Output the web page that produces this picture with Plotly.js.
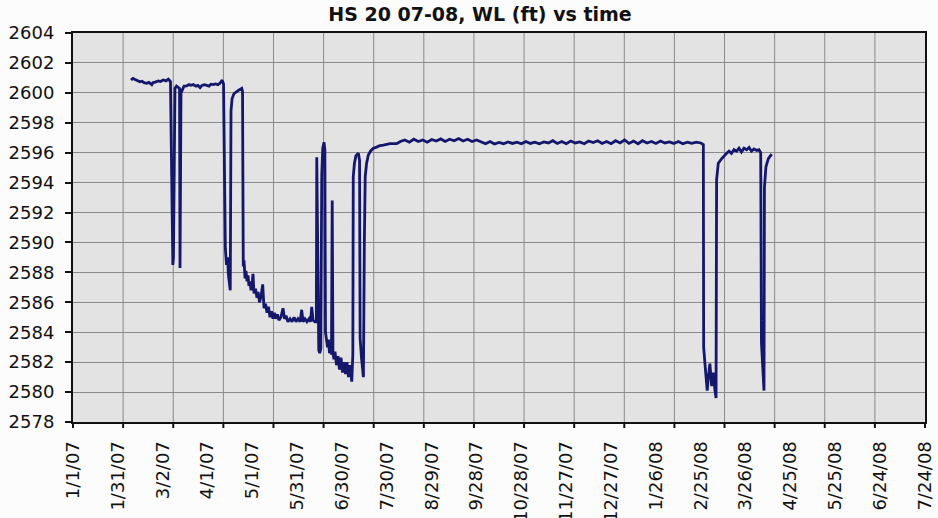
<!DOCTYPE html>
<html>
<head>
<meta charset="utf-8">
<script src="https://cdn.plot.ly/plotly-3.0.1.min.js"></script>
<style>html,body{margin:0;padding:0;background:#fcfcfc;}#chart{width:938px;height:518px;}</style>
</head>
<body>
<div id="chart"></div>
<script>
// Water level readings (date, WL ft)
const dates = [
 "2007-02-08 19:00","2007-02-10 03:00","2007-02-11 12:00","2007-02-12 19:00","2007-02-14 19:00","2007-02-16 05:00",
 "2007-02-17 12:00","2007-02-19 07:00","2007-02-20 19:00","2007-02-22 17:00","2007-02-23 12:00","2007-02-24 22:00",
 "2007-02-26 00:00","2007-02-27 05:00","2007-02-28 12:00","2007-03-02 10:00","2007-03-04 05:00","2007-03-05 19:00",
 "2007-03-07 05:00","2007-03-08 19:00","2007-03-09 05:00","2007-03-10 05:00","2007-03-11 05:00","2007-03-13 07:00",
 "2007-03-13 14:00","2007-03-14 06:00","2007-03-15 07:00","2007-03-16 07:00","2007-03-18 02:00","2007-03-19 14:00",
 "2007-03-20 22:00","2007-03-22 12:00","2007-03-24 07:00","2007-03-25 14:00","2007-03-27 00:00","2007-03-28 07:00",
 "2007-03-30 00:00","2007-03-31 10:00","2007-04-02 00:00","2007-04-03 07:00","2007-04-04 22:00","2007-04-06 07:00",
 "2007-04-08 00:00","2007-04-09 07:00","2007-04-10 19:00","2007-04-11 17:00","2007-04-12 22:00","2007-04-13 17:00",
 "2007-04-14 10:00","2007-04-15 00:00","2007-04-15 17:00","2007-04-16 05:00","2007-04-16 17:00","2007-04-17 10:00",
 "2007-04-18 17:00","2007-04-20 12:00","2007-04-22 02:00","2007-04-23 22:00","2007-04-24 10:00","2007-04-24 22:00",
 "2007-04-25 10:00","2007-04-26 02:00","2007-04-26 17:00","2007-04-27 10:00","2007-04-28 02:00","2007-04-28 17:00",
 "2007-04-29 10:00","2007-04-30 02:00","2007-04-30 19:00","2007-05-01 10:00","2007-05-02 02:00","2007-05-03 02:00",
 "2007-05-04 02:00","2007-05-04 19:00","2007-05-05 19:00","2007-05-06 19:00","2007-05-07 22:00","2007-05-08 19:00",
 "2007-05-09 19:00","2007-05-10 19:00","2007-05-11 19:00","2007-05-12 19:00","2007-05-13 19:00","2007-05-14 19:00",
 "2007-05-15 19:00","2007-05-16 19:00","2007-05-17 19:00","2007-05-18 19:00","2007-05-20 02:00","2007-05-21 12:00",
 "2007-05-22 12:00","2007-05-23 12:00","2007-05-24 19:00","2007-05-26 05:00","2007-05-27 12:00","2007-05-28 22:00",
 "2007-05-30 05:00","2007-05-31 12:00","2007-06-01 22:00","2007-06-03 00:00","2007-06-03 22:00","2007-06-05 05:00",
 "2007-06-06 12:00","2007-06-07 22:00","2007-06-08 22:00","2007-06-09 17:00","2007-06-10 14:00","2007-06-11 22:00",
 "2007-06-12 19:00","2007-06-13 02:00","2007-06-14 10:00","2007-06-15 02:00","2007-06-15 19:00","2007-06-16 10:00",
 "2007-06-17 02:00","2007-06-17 22:00","2007-06-18 12:00","2007-06-18 22:00","2007-06-19 14:00","2007-06-20 07:00",
 "2007-06-20 22:00","2007-06-21 14:00","2007-06-22 07:00","2007-06-22 22:00","2007-06-23 10:00","2007-06-23 22:00",
 "2007-06-24 14:00","2007-06-25 07:00","2007-06-26 07:00","2007-06-27 07:00","2007-06-28 07:00","2007-06-29 07:00",
 "2007-06-30 07:00","2007-07-01 07:00","2007-07-02 07:00","2007-07-03 07:00","2007-07-04 07:00","2007-07-05 07:00",
 "2007-07-06 12:00","2007-07-07 05:00","2007-07-07 12:00","2007-07-08 07:00","2007-07-09 07:00","2007-07-10 22:00",
 "2007-07-11 17:00","2007-07-12 02:00","2007-07-13 00:00","2007-07-13 17:00","2007-07-14 07:00","2007-07-14 22:00",
 "2007-07-15 12:00","2007-07-16 10:00","2007-07-17 14:00","2007-07-19 00:00","2007-07-20 22:00","2007-07-22 17:00",
 "2007-07-24 17:00","2007-07-27 14:00","2007-07-30 02:00","2007-08-01 02:00","2007-08-05 14:00",
 "2007-08-08","2007-08-11","2007-08-14","2007-08-17","2007-08-20","2007-08-23","2007-08-26","2007-08-29",
 "2007-09-01","2007-09-04","2007-09-07","2007-09-10","2007-09-13","2007-09-16","2007-09-19","2007-09-22",
 "2007-09-25","2007-09-28","2007-10-01","2007-10-04","2007-10-07","2007-10-10","2007-10-13","2007-10-16",
 "2007-10-19","2007-10-22","2007-10-25","2007-10-28","2007-10-31","2007-11-03","2007-11-06","2007-11-09",
 "2007-11-12","2007-11-15","2007-11-18","2007-11-21","2007-11-24","2007-11-27","2007-11-30","2007-12-03",
 "2007-12-06","2007-12-09","2007-12-12","2007-12-15","2007-12-18","2007-12-21","2007-12-24","2007-12-27",
 "2007-12-30","2008-01-02","2008-01-05","2008-01-08","2008-01-11","2008-01-14","2008-01-17","2008-01-20",
 "2008-01-23","2008-01-26","2008-01-29","2008-02-01","2008-02-04","2008-02-07","2008-02-10","2008-02-13",
 "2008-02-16","2008-02-19","2008-02-22","2008-02-25",
 "2008-02-26 17:00","2008-02-26 22:00","2008-02-27 19:00","2008-02-28 12:00","2008-02-29 07:00","2008-03-01 02:00",
 "2008-03-02 02:00","2008-03-03 07:00","2008-03-04 10:00","2008-03-05 12:00","2008-03-06 05:00","2008-03-06 14:00",
 "2008-03-07 17:00","2008-03-10 00:00","2008-03-11 12:00","2008-03-13 07:00","2008-03-14 22:00","2008-03-16 12:00",
 "2008-03-18 05:00","2008-03-20 00:00","2008-03-21 14:00","2008-03-23 05:00","2008-03-24 22:00","2008-03-26 17:00",
 "2008-03-28 07:00","2008-03-29 22:00","2008-03-31 14:00","2008-04-02 10:00","2008-04-03 22:00","2008-04-05 02:00",
 "2008-04-05 14:00","2008-04-06 07:00","2008-04-07 07:00","2008-04-07 14:00","2008-04-08 14:00","2008-04-10 05:00",
 "2008-04-12 10:00"
];
const wl = [
 2600.86,2600.97,2600.90,2600.82,2600.74,2600.78,
 2600.68,2600.64,2600.70,2600.55,2600.68,2600.72,
 2600.74,2600.80,2600.76,2600.86,2600.80,2600.92,
 2600.75,2588.5,2589.0,2600.30,2600.45,2600.30,
 2588.3,2600.00,2600.30,2600.45,2600.46,2600.55,
 2600.50,2600.55,2600.45,2600.50,2600.35,2600.50,
 2600.55,2600.52,2600.45,2600.58,2600.55,2600.60,
 2600.55,2600.64,2600.85,2600.60,2589.6,2588.5,
 2589.0,2587.8,2587.3,2586.8,2598.8,2599.6,
 2599.95,2600.10,2600.20,2600.30,2600.10,2588.4,
 2588.8,2587.6,2588.1,2587.4,2587.8,2587.1,
 2587.4,2586.8,2587.2,2587.9,2586.6,2586.9,
 2586.3,2586.7,2586.0,2586.4,2587.2,2585.6,
 2585.9,2585.3,2585.7,2585.0,2585.4,2584.9,
 2585.3,2584.9,2585.2,2584.8,2585.0,2585.6,
 2584.9,2585.1,2584.7,2584.9,2584.7,2585.0,
 2584.7,2584.9,2584.7,2585.5,2584.7,2584.9,
 2584.7,2584.9,2584.7,2585.7,2584.8,2584.7,
 2584.7,2595.7,2582.8,2582.6,2582.9,2594.5,
 2596.3,2596.7,2596.2,2584.0,2583.4,2583.0,
 2583.5,2582.6,2583.1,2582.5,2592.8,2582.6,
 2582.2,2582.7,2581.8,2582.4,2581.5,2582.3,
 2581.3,2582.0,2581.2,2582.0,2581.0,2581.8,
 2580.7,2582.5,2594.4,2595.3,2595.8,2595.96,
 2595.5,2583.6,2582.3,2581.6,2581.0,2590.0,
 2594.4,2595.3,2595.85,2596.1,2596.3,2596.35,
 2596.45,2596.5,2596.55,2596.6,2596.6,
 2596.75,2596.85,2596.70,2596.90,2596.75,2596.85,2596.70,2596.88,
 2596.78,2596.92,2596.75,2596.90,2596.80,2596.95,2596.78,2596.90,
 2596.75,2596.85,2596.70,2596.60,2596.75,2596.58,2596.68,2596.60,
 2596.72,2596.62,2596.70,2596.60,2596.75,2596.62,2596.70,2596.60,
 2596.72,2596.65,2596.80,2596.62,2596.75,2596.60,2596.78,2596.65,
 2596.72,2596.60,2596.78,2596.68,2596.80,2596.62,2596.75,2596.60,
 2596.80,2596.65,2596.85,2596.62,2596.78,2596.60,2596.80,2596.65,
 2596.75,2596.62,2596.78,2596.65,2596.72,2596.62,2596.75,2596.60,
 2596.70,2596.62,2596.70,2596.65,
 2596.55,2583.0,2581.9,2581.2,2580.1,2581.0,
 2581.9,2580.4,2581.3,2580.1,2579.6,2594.2,
 2595.3,2595.6,2595.8,2595.96,2596.1,2595.95,
 2596.2,2596.1,2596.3,2596.05,2596.3,2596.2,
 2596.35,2596.1,2596.25,2596.15,2596.2,2596.0,
 2583.3,2582.0,2580.1,2593.7,2595.06,2595.6,
 2595.9
];
// x-axis labels every 30 days
const xTickVals = ["2007-01-01","2007-01-31","2007-03-02","2007-04-01","2007-05-01","2007-05-31","2007-06-30",
 "2007-07-30","2007-08-29","2007-09-28","2007-10-28","2007-11-27","2007-12-27","2008-01-26","2008-02-25",
 "2008-03-26","2008-04-25","2008-05-25","2008-06-24","2008-07-24"];
const xTickText = ["1/1/07","1/31/07","3/2/07","4/1/07","5/1/07","5/31/07","6/30/07","7/30/07","8/29/07",
 "9/28/07","10/28/07","11/27/07","12/27/07","1/26/08","2/25/08","3/26/08","4/25/08","5/25/08","6/24/08","7/24/08"];
const xRange = ["2007-01-01","2008-07-24"];
const yRange = [2578, 2604];
const yStep = 2;
const gridDivisions = 17;   // vertical gridlines / tick marks split the x span into 17 equal parts

const W = 938, H = 518;
const M = {l: 73, r: 13, t: 33, b: 96};
const plotH = H - M.t - M.b;
const tickLen = 6;

// vertical gridlines and their tick marks (paper-relative, from the grid division count)
const shapes = [];
for (let i = 0; i <= gridDivisions; i++) {
  const f = i / gridDivisions;
  if (i > 0 && i < gridDivisions) {
    shapes.push({type: "line", xref: "paper", yref: "paper", x0: f, x1: f, y0: 0, y1: 1,
                 line: {color: "#8a8a8a", width: 1}, layer: "below"});
  }
  shapes.push({type: "line", xref: "paper", yref: "paper", x0: f, x1: f, y0: 0, y1: -tickLen / plotH,
               line: {color: "#111111", width: 2}, layer: "above"});
}

const font = "DejaVu Sans, Liberation Sans, Arial, sans-serif";
const trace = {
  x: dates, y: wl, type: "scatter", mode: "lines",
  line: {color: "#14176b", width: 2.8}, hoverinfo: "x+y", showlegend: false
};
const layout = {
  width: W, height: H,
  margin: M,
  paper_bgcolor: "#fcfcfc", plot_bgcolor: "#e3e3e3",
  font: {family: font, color: "#111111"},
  title: {text: "<b>HS 20 07-08, WL (ft) vs time</b>", font: {size: 19, family: font, color: "#111"},
          x: 480/W, xref: "container", xanchor: "center", y: 1 - 14/H, yref: "container", yanchor: "middle"},
  xaxis: {type: "date", range: xRange, tickmode: "array", tickvals: xTickVals, ticktext: xTickText,
          tickangle: -90, tickfont: {size: 18}, ticks: "", showgrid: false, zeroline: false,
          showline: true, linecolor: "#111", linewidth: 2, mirror: true, ticklabelstandoff: 10},
  yaxis: {range: yRange, dtick: yStep, tick0: yRange[0], tickfont: {size: 18}, ticks: "outside", ticklen: tickLen,
          tickwidth: 2, tickcolor: "#111", showgrid: true, gridcolor: "#8a8a8a", gridwidth: 1,
          zeroline: false, showline: true, linecolor: "#111", linewidth: 2, mirror: true, ticklabelstandoff: 7},
  shapes: shapes
};
Plotly.newPlot("chart", [trace], layout, {staticPlot: true});
</script>
</body>
</html>
